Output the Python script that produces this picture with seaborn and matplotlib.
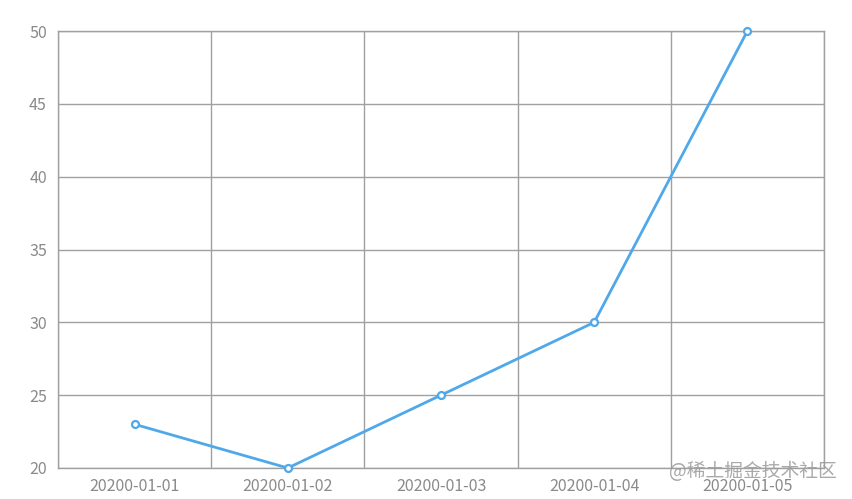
import numpy as np
import pandas as pd
import matplotlib.pyplot as plt
import seaborn as sns

dates = ["20200-01-01", "20200-01-02", "20200-01-03", "20200-01-04", "20200-01-05"]
values = [23, 20, 25, 30, 50]

df = pd.DataFrame({"date": dates, "value": values})

sns.set_style("white")
plt.rcParams["font.family"] = ["Noto Sans CJK SC", "DejaVu Sans"]

GRID = "#a0a0a0"
TEXT = "#8a8a8a"
LINE = "#4fa8ea"

fig = plt.figure(figsize=(8.52, 4.99), dpi=100)
ax = fig.add_axes([58 / 852, 31 / 499, 766 / 852, 437 / 499])

sns.lineplot(data=df, x="date", y="value", ax=ax, color=LINE, linewidth=2,
             marker="o", markersize=5, markerfacecolor="white",
             markeredgecolor=LINE, markeredgewidth=1.6, zorder=3, clip_on=False)

n = len(dates)
ax.set_xlim(-0.5, n - 0.5)
ax.set_ylim(20, 50)
ax.set_yticks(np.arange(20, 51, 5))
ax.set_xticks(range(n))
ax.set_xticklabels(dates)
ax.set_xticks(np.arange(-0.5, n, 1), minor=True)

ax.grid(True, which="minor", axis="x", color=GRID, linewidth=1)
ax.grid(True, which="major", axis="y", color=GRID, linewidth=1)
ax.tick_params(axis="x", which="major", length=0, pad=7, labelsize=11.5, labelcolor=TEXT)
ax.tick_params(axis="x", which="minor", length=5, width=1, color=GRID, direction="out")
ax.tick_params(axis="y", length=0, pad=8, labelsize=11.5, labelcolor=TEXT)

for s in ax.spines.values():
    s.set_color(GRID)
    s.set_linewidth(1)

ax.set_xlabel("")
ax.set_ylabel("")

fig.text(0.982, 0.056, "@稀土掘金技术社区", ha="right", va="center",
         fontsize=13.5, color="#9a9a9a", alpha=0.85)

fig.savefig("out.png", dpi=100)
